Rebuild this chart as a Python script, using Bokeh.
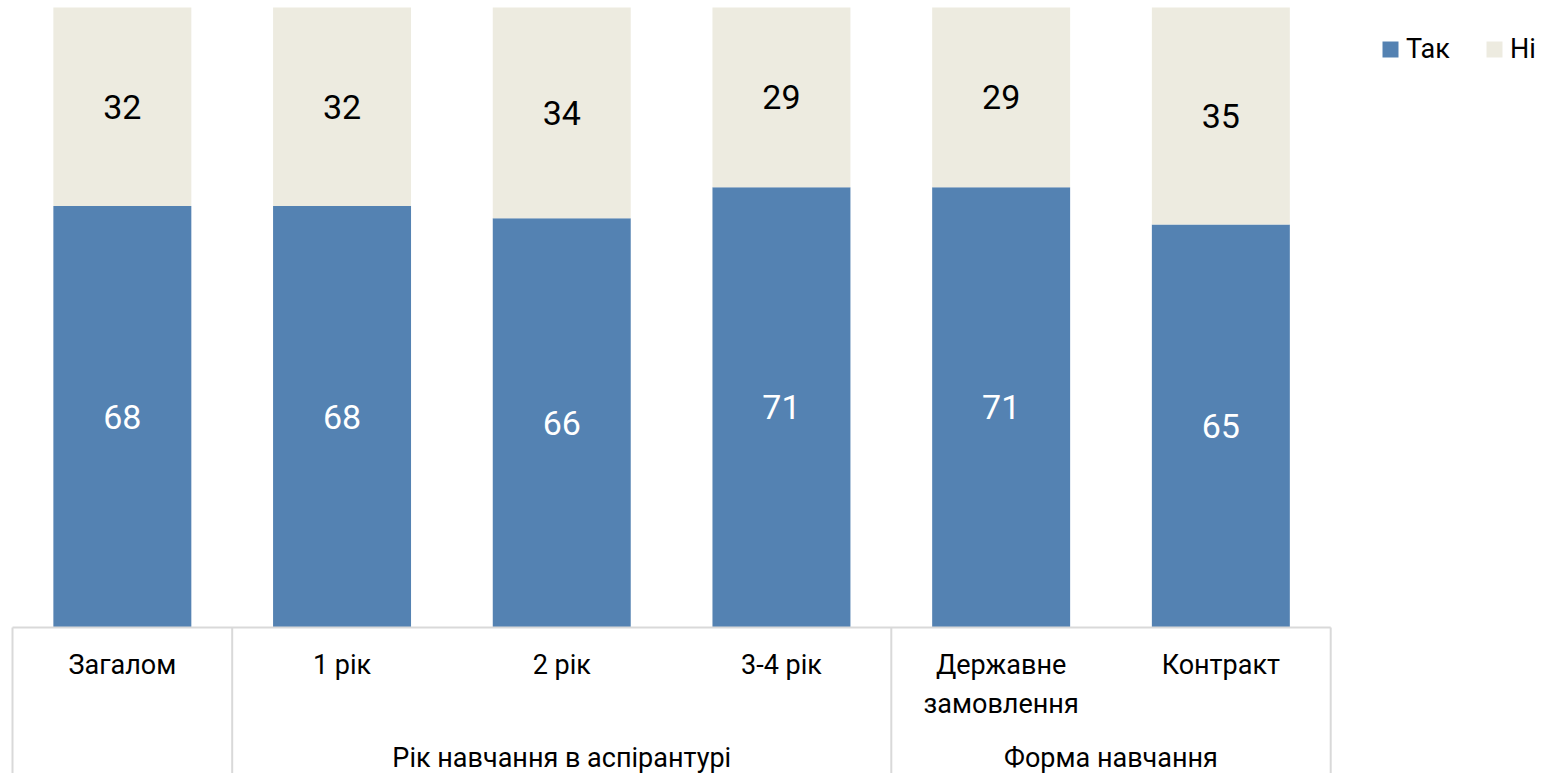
from bokeh.plotting import figure
from bokeh.models import ColumnDataSource, Range1d, Legend, LegendItem
from bokeh.core.properties import value
from bokeh.embed import file_html
from bokeh.resources import INLINE

# ---- data ----
categories = ["Загалом", "1 рік", "2 рік", "3-4 рік", "Державне\nзамовлення", "Контракт"]
tak = [68, 68, 66, 71, 71, 65]
ni = [32, 32, 34, 29, 29, 35]
group_names = ["", "Рік навчання в аспірантурі", "Форма навчання"]
group_sizes = [1, 3, 2]
series_labels = ["Так", "Ні"]

# ---- style ----
BLUE = "#5482B2"
BEIGE = "#EDEBE0"
GRID = "#D9D9D9"
FONT_NAME = "Roboto"
FONT = value(FONT_NAME)
W, H = 1554, 773
AXIS_Y = 627               # pixel row of the category axis
PX_PER_UNIT = 6.2          # vertical pixels per percentage point
X_UNIT = 219.7             # pixels per category slot
X_LEFT_PAD = 12            # pixels from figure edge to first category boundary
Y_TOP = AXIS_Y / PX_PER_UNIT
Y_BOTTOM = -(H - AXIS_Y) / PX_PER_UNIT

n = len(categories)
xs = [i + 0.5 for i in range(n)]
tak_mid = [t / 2 for t in tak]
ni_mid = [t + v / 2 for t, v in zip(tak, ni)]

src = ColumnDataSource(dict(x=xs, tak=tak, ni=ni, cat=categories,
                            tak_mid=tak_mid, ni_mid=ni_mid,
                            tak_lbl=[str(v) for v in tak], ni_lbl=[str(v) for v in ni]))

p = figure(width=W, height=H, output_backend="svg", toolbar_location=None,
           x_range=Range1d(-X_LEFT_PAD / X_UNIT, (W - X_LEFT_PAD) / X_UNIT),
           y_range=Range1d(Y_BOTTOM, Y_TOP),
           x_axis_location=None, y_axis_location=None, min_border=0,
           outline_line_color=None)
p.grid.visible = False

rs = p.vbar_stack(["tak", "ni"], x="x", width=0.628, source=src,
                  color=[BLUE, BEIGE], line_color=None)

# value labels
p.text(x="x", y="tak_mid", text="tak_lbl", source=src, text_align="center",
       text_baseline="middle", text_color="white", text_font=FONT, text_font_size="34px")
p.text(x="x", y="ni_mid", text="ni_lbl", source=src, text_align="center",
       text_baseline="middle", text_color="black", text_font=FONT, text_font_size="34px")

# category axis: baseline and group separators
bounds = [0]
for s in group_sizes:
    bounds.append(bounds[-1] + s)
p.segment(x0=[0], y0=[0], x1=[n], y1=[0], line_color=GRID, line_width=2)
p.segment(x0=bounds, y0=[0] * len(bounds), x1=bounds, y1=[Y_BOTTOM] * len(bounds),
          line_color=GRID, line_width=2)

# tick labels
p.text(x="x", y=-21 / PX_PER_UNIT, text="cat", source=src, text_align="center",
       text_baseline="top", text_color="black", text_font=FONT, text_font_size="27px",
       text_line_height=1.22)

# group labels
gx, gt = [], []
for name, a, b in zip(group_names, bounds[:-1], bounds[1:]):
    if name:
        gx.append((a + b) / 2)
        gt.append(name)
p.text(x=gx, y=[-114 / PX_PER_UNIT] * len(gx), text=gt, text_align="center",
       text_baseline="top", text_color="black", text_font=FONT, text_font_size="27px")

legend = Legend(items=[LegendItem(label=series_labels[0], renderers=[rs[0]]),
                       LegendItem(label=series_labels[1], renderers=[rs[1]])],
                orientation="horizontal", location=(1380, H - 65),
                padding=0, margin=0, spacing=34, label_standoff=6,
                glyph_width=20, glyph_height=20, label_height=20,
                label_text_font=FONT_NAME, label_text_font_size="27px",
                label_text_color="black",
                border_line_color=None, background_fill_alpha=0)
p.add_layout(legend)

open("out.html", "w").write(file_html(p, INLINE))
